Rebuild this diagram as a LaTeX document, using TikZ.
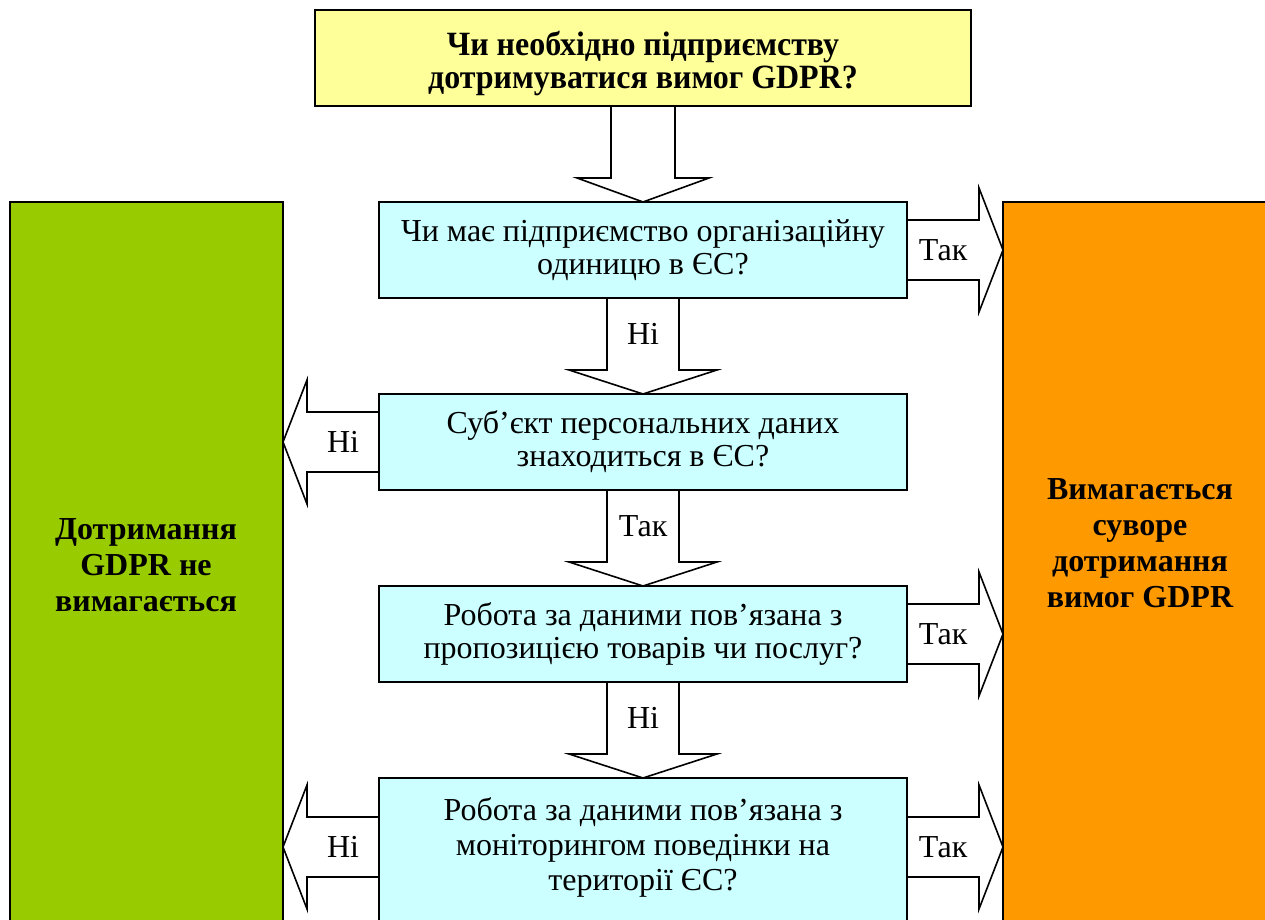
\documentclass[tikz,border=0pt]{standalone}
\usepackage{fontspec}
\setmainfont{Liberation Serif}
\usetikzlibrary{calc}

\definecolor{askyellow}{HTML}{FFFF99}
\definecolor{askcyan}{HTML}{CCFFFF}
\definecolor{nogreen}{HTML}{99CC00}
\definecolor{needorange}{HTML}{FF9900}

\tikzset{
  qbox/.style={draw, line width=2.2pt, outer sep=0pt, fill=askcyan, align=center,
    minimum width=528pt, minimum height=96pt, font=\fontsize{32}{33}\selectfont},
  sidebox/.style={draw, line width=2.2pt, outer sep=0pt, minimum width=273pt, minimum height=740pt},
  sidetext/.style={align=center, font=\fontsize{32}{36}\selectfont\bfseries},
  barrow/.style={draw, line width=1.6pt, line join=miter},
  arrowlbl/.style={font=\fontsize{32}{32}\selectfont}
}

% block arrow: [half shaft]{from}{to}{label}
\newcommand{\blockarrow}[4][30]{%
  \path[barrow] let \p1=(#2), \p2=(#3),
    \n1={veclen(\x2-\x1,\y2-\y1)}, \n2={atan2(\y2-\y1,\x2-\x1)} in
    [shift={(\p1)}, rotate=\n2]
    (0,-#1) -- (\n1-24,-#1) -- (\n1-24,{-2*#1-2}) -- (\n1,0)
    -- (\n1-24,{2*#1+2}) -- (\n1-24,#1) -- (0,#1)
    ({(\n1-24)/2},0) node[arrowlbl] {#4};
}

\begin{document}
\begin{tikzpicture}[x=1pt,y=1pt]
\path[use as bounding box, clip] (0,0) rectangle (1265,920);

\node [draw, line width=2.2pt, outer sep=0pt, fill=askyellow,
  minimum width=656pt, minimum height=96pt] (q0) at (643,862) {};
\node [align=center, xscale=0.94, transform shape, font=\fontsize{34}{33}\selectfont\bfseries]
  (q0txt) at (643,856) {Чи необхідно підприємству\\дотримуватися вимог GDPR?};

\node [qbox] (q1) at (643,670) {Чи має підприємство організаційну\\одиницю в ЄС?};
\node [qbox] (q2) at (643,478) {Суб’єкт персональних даних\\знаходиться в ЄС?};
\node [qbox] (q3) at (643,286) {Робота за даними пов’язана з\\пропозицією товарів чи послуг?};
\node [qbox, minimum height=146pt] (q4) at (643,69) {};
\node [align=center, font=\fontsize{32}{35}\selectfont] (q4txt) at (643,73)
  {Робота за даними пов’язана з\\моніторингом поведінки на\\території ЄС?};

\node [sidebox, fill=nogreen, anchor=north west] (nogdpr) at (10,718) {};
\node [sidebox, fill=needorange, anchor=north west] (needgdpr) at (1003,718) {};
\node [sidetext] (nogdprtxt) at (146,355) {Дотримання\\GDPR не\\вимагається};
\node [sidetext] (needgdprtxt) at (1140,377) {Вимагається\\суворе\\дотримання\\вимог GDPR};

\blockarrow[32]{q0.south}{q1.north}{}
\blockarrow[36]{q1.south}{q2.north}{Ні}
\blockarrow[36]{q2.south}{q3.north}{Так}
\blockarrow[36]{q3.south}{q4.north}{Ні}

\blockarrow{q1.east}{needgdpr.west |- q1.east}{Так}
\blockarrow{q2.west}{nogdpr.east |- q2.west}{Ні}
\blockarrow{q3.east}{needgdpr.west |- q3.east}{Так}
\blockarrow{q4.west |- q4txt}{nogdpr.east |- q4txt}{Ні}
\blockarrow{q4.east |- q4txt}{needgdpr.west |- q4txt}{Так}

\end{tikzpicture}
\end{document}
